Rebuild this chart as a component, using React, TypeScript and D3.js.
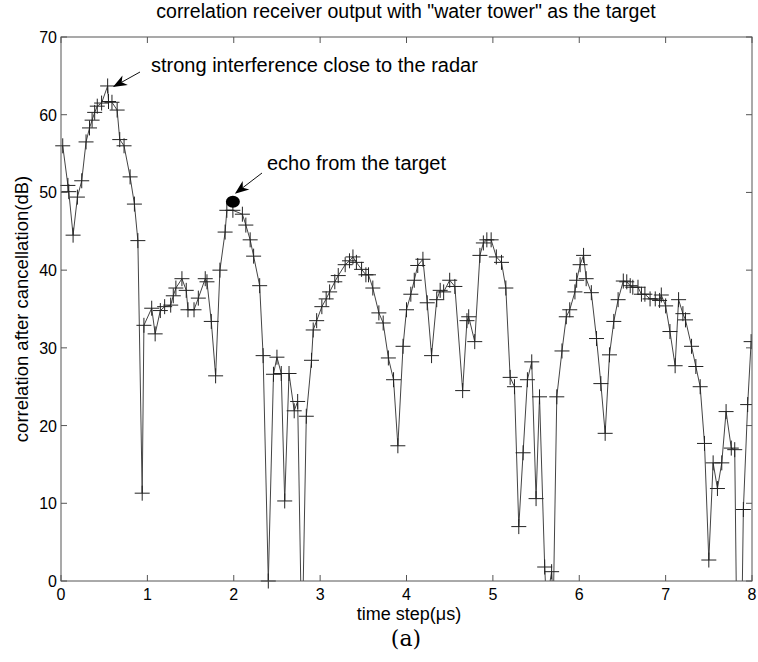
import React from "react";
import * as d3 from "d3";

const timeSteps = [
  0.02, 0.08, 0.09, 0.14, 0.19, 0.24, 0.29, 0.33, 0.36, 0.39, 0.42, 0.47, 0.54, 0.55, 0.59, 0.65, 0.68, 0.73, 0.8, 0.85, 0.89, 0.94, 0.96,
  1.05, 1.09, 1.15, 1.2, 1.27, 1.3, 1.33, 1.4, 1.45, 1.47, 1.54, 1.59, 1.67, 1.69, 1.74, 1.79, 1.84, 1.9, 1.92, 1.99,
  2.1, 2.14, 2.19, 2.23, 2.3, 2.34, 2.4, 2.46, 2.5, 2.55, 2.59, 2.64, 2.7, 2.74, 2.78, 2.8, 2.84, 2.9, 2.92, 2.96,
  3.02, 3.07, 3.11, 3.17, 3.21, 3.29, 3.34, 3.38, 3.42, 3.48, 3.53, 3.56, 3.61, 3.68, 3.73, 3.79, 3.85, 3.9, 3.96,
  4.0, 4.05, 4.09, 4.13, 4.19, 4.24, 4.29, 4.35, 4.39, 4.43, 4.5, 4.56, 4.65, 4.7, 4.72, 4.79, 4.85, 4.89, 4.93, 4.98,
  5.04, 5.1, 5.15, 5.2, 5.25, 5.3, 5.35, 5.4, 5.45, 5.5, 5.54, 5.6, 5.62, 5.68, 5.7, 5.74, 5.8, 5.85, 5.89, 5.95, 5.97,
  6.01, 6.05, 6.08, 6.14, 6.2, 6.25, 6.3, 6.35, 6.4, 6.45, 6.51, 6.55, 6.59, 6.62, 6.68, 6.72, 6.76, 6.82, 6.88, 6.93, 6.95,
  7.0, 7.05, 7.11, 7.15, 7.2, 7.23, 7.3, 7.35, 7.4, 7.45, 7.5, 7.55, 7.6, 7.65, 7.7, 7.76, 7.8, 7.82, 7.885, 7.9, 7.95, 7.99,
];

const correlationDb = [
  56.0, 50.9, 50.1, 44.5, 49.4, 51.5, 56.5, 58.3, 59.3, 60.3, 61.1, 61.5, 63.7, 61.7, 61.6, 60.6, 56.8, 56.0, 52.0, 48.5, 43.8, 11.3, 32.9,
  35.1, 31.8, 34.8, 35.3, 35.5, 36.7, 37.7, 38.9, 37.4, 34.9, 34.9, 36.4, 38.9, 38.5, 33.4, 26.4, 40.0, 44.9, 47.7, 47.7,
  47.2, 45.8, 43.9, 41.8, 38.0, 29.0, 0.0, 26.6, 28.8, 26.7, 10.3, 26.7, 21.9, 23.1, -3, -3, 21.2, 28.4, 32.3, 33.5,
  35.3, 36.3, 37.2, 38.5, 39.3, 40.7, 41.2, 41.7, 41.0, 40.1, 39.4, 39.4, 37.7, 34.5, 33.2, 28.7, 25.9, 17.4, 30.2,
  34.9, 36.9, 38.7, 40.6, 41.4, 35.8, 29.0, 36.2, 37.4, 37.2, 38.7, 37.9, 24.5, 33.5, 34.0, 30.8, 41.9, 43.5, 43.9, 43.9,
  41.7, 41.0, 37.7, 26.2, 25.0, 7.0, 16.5, 25.9, 28.2, 10.6, 23.7, 1.8, -3, 1.2, -3, 23.7, 29.6, 34.0, 34.9, 37.2, 38.7,
  40.7, 41.9, 38.9, 37.1, 31.2, 25.4, 19.0, 29.1, 33.4, 36.2, 38.6, 38.5, 38.0, 37.8, 37.8, 36.9, 36.9, 36.3, 36.3, 36.1, 36.8,
  35.4, 32.1, 27.7, 36.2, 34.4, 33.6, 30.2, 27.6, 25.0, 17.7, 2.7, 15.2, 11.9, 15.2, 21.8, 17.1, 16.9, -3, -3, 9.2, 22.7, 30.8,
];

const xTicks = [0, 1, 2, 3, 4, 5, 6, 7, 8];
const yTicks = [0, 10, 20, 30, 40, 50, 60, 70];

const titleText = 'correlation receiver output with "water tower" as the target';
const xLabelText = "time step(\u03bcs)";
const yLabelText = "correlation after cancellation(dB)";
const captionText = "(a)";
const noteStrong = "strong interference close to the radar";
const noteEcho = "echo from the target";
const echoPoint = { t: 1.99, v: 48.8 };
const strongPoint = { t: 0.555, v: 63.3 };

const W = 758;
const H = 662;
const L = 61, R = 752, T = 37, B = 581;
const FONT = "'Liberation Sans', Arial, sans-serif";

function Arrow({ x1, y1, x2, y2 }: { x1: number; y1: number; x2: number; y2: number }) {
  const ang = Math.atan2(y2 - y1, x2 - x1);
  const len = 14, half = 5.5, back = 10;
  const bx = x2 - len * Math.cos(ang), by = y2 - len * Math.sin(ang);
  const nx = -Math.sin(ang), ny = Math.cos(ang);
  const ix = x2 - back * Math.cos(ang), iy = y2 - back * Math.sin(ang);
  const d = `M${x2},${y2} L${bx + nx * half},${by + ny * half} L${ix},${iy} L${bx - nx * half},${by - ny * half} Z`;
  return (
    <g>
      <line x1={x1} y1={y1} x2={ix} y2={iy} stroke="#111" strokeWidth={1} />
      <path d={d} fill="#000" />
    </g>
  );
}

export default function App() {
  const x = d3.scaleLinear().domain([0, 8]).range([L, R]);
  const y = d3.scaleLinear().domain([0, 70]).range([B, T]);
  const pts = timeSteps.map((t, i) => [t, correlationDb[i]] as [number, number]);
  const line = d3.line<[number, number]>().x((d) => x(d[0])).y((d) => y(d[1]))(pts) || "";
  const ms = 7.5;
  const ex = x(echoPoint.t), ey = y(echoPoint.v);
  const sx = x(strongPoint.t), sy = y(strongPoint.v);
  return (
    <svg width={W} height={H} style={{ position: "absolute", left: 0, top: 0, background: "#fff" }} fontFamily={FONT}>
      <defs>
        <clipPath id="plotclip">
          <rect x={L} y={T} width={R - L} height={B - T} />
        </clipPath>
        <clipPath id="markclip">
          <rect x={L - 10} y={T - 10} width={R - L + 10} height={B - T + 20} />
        </clipPath>
      </defs>
      <rect x={0} y={0} width={W} height={H} fill="#fff" />
      <text x={406} y={18} textAnchor="middle" fontSize={19.5} fill="#000">{titleText}</text>
      <path d={line} fill="none" stroke="#444" strokeWidth={1} clipPath="url(#plotclip)" />
      <g clipPath="url(#markclip)" stroke="#222" strokeWidth={1}>
        {pts.filter((p) => p[1] >= 0).map((p, i) => {
          const cx = x(p[0]), cy = y(p[1]);
          return (
            <g key={i}>
              <line x1={cx - ms} x2={cx + ms} y1={cy} y2={cy} />
              <line x1={cx} x2={cx} y1={cy - ms} y2={cy + ms} />
            </g>
          );
        })}
      </g>
      <rect x={L} y={T} width={R - L} height={B - T} fill="none" stroke="#555" strokeWidth={1} />
      {xTicks.map((t) => (
        <g key={"x" + t}>
          <line x1={x(t)} x2={x(t)} y1={B} y2={B - 6} stroke="#555" />
          <line x1={x(t)} x2={x(t)} y1={T} y2={T + 6} stroke="#555" />
          <text x={x(t)} y={B + 19} textAnchor="middle" fontSize={16} fill="#000">{t}</text>
        </g>
      ))}
      {yTicks.map((v) => (
        <g key={"y" + v}>
          <line x1={L} x2={L + 6} y1={y(v)} y2={y(v)} stroke="#555" />
          <line x1={R} x2={R - 6} y1={y(v)} y2={y(v)} stroke="#555" />
          <text x={L - 4} y={y(v) + 6} textAnchor="end" fontSize={16} fill="#000">{v}</text>
        </g>
      ))}
      <text x={409} y={620} textAnchor="middle" fontSize={18} fill="#000">{xLabelText}</text>
      <text transform={`translate(28,${(T + B) / 2}) rotate(-90)`} textAnchor="middle" fontSize={18.5} fill="#000">{yLabelText}</text>
      <text x={406} y={646} textAnchor="middle" fontSize={22} fontFamily="'DejaVu Serif', 'Liberation Serif', serif" fill="#000">{captionText}</text>
      <ellipse cx={ex} cy={ey} rx={7} ry={6} fill="#000" />
      <Arrow x1={140} y1={72} x2={sx + 4} y2={sy - 2} />
      <text x={151} y={72} fontSize={20} fill="#000">{noteStrong}</text>
      <Arrow x1={262} y1={173} x2={ex + 2} y2={ey - 8} />
      <text x={267} y={170} fontSize={20} fill="#000">{noteEcho}</text>
    </svg>
  );
}
